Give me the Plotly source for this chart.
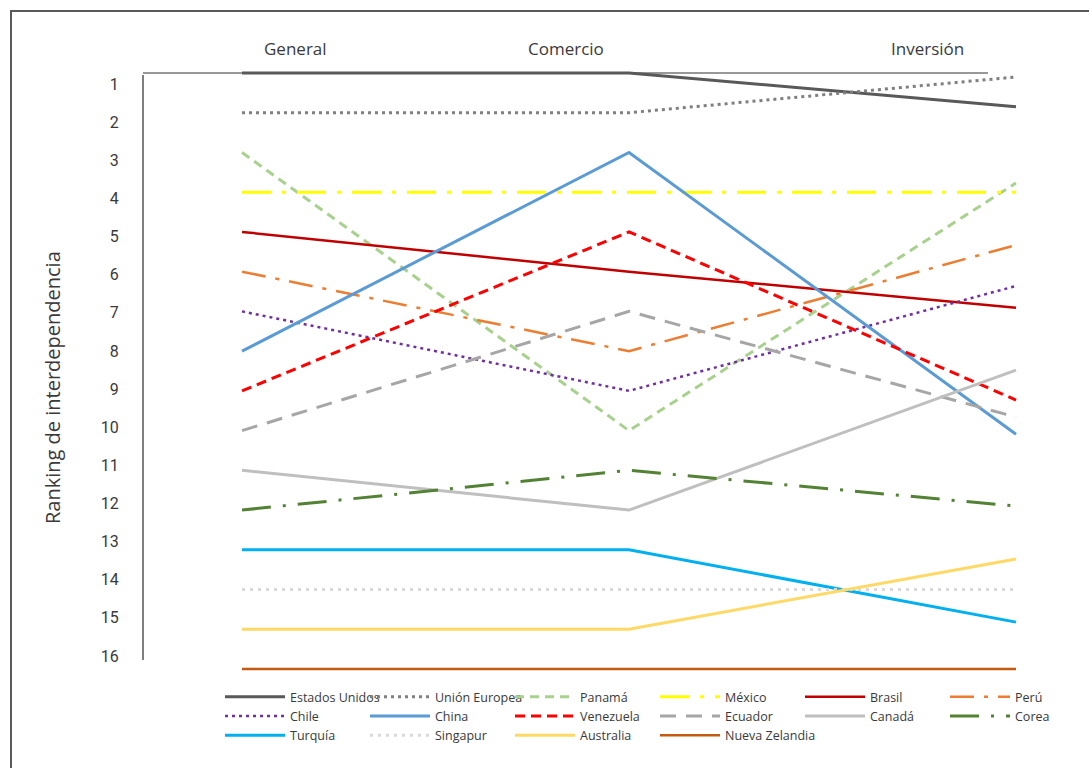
import plotly.graph_objects as go

# ---------------- data ----------------
categories = ["General", "Comercio", "Inversión"]

countries = ["Estados Unidos", "Unión Europea", "Panamá", "México", "Brasil", "Perú",
             "Chile", "China", "Venezuela", "Ecuador", "Canadá", "Corea",
             "Turquía", "Singapur", "Australia", "Nueva Zelandia"]

estados_unidos = [1, 1, 1.85]
union_europea = [2, 2, 1.1]
panama = [3, 10, 3.77]
mexico = [4, 4, 4]
brasil = [5, 6, 6.91]
peru = [6, 8, 5.33]
chile = [7, 9, 6.36]
china = [8, 3, 10.09]
venezuela = [9, 5, 9.23]
ecuador = [10, 7, 9.66]
canada = [11, 12, 8.48]
corea = [12, 11, 11.9]
turquia = [13, 13, 14.82]
singapur = [14, 14, 14]
australia = [15, 15, 13.23]
nueva_zelandia = [16, 16, 16]

series = [estados_unidos, union_europea, panama, mexico, brasil, peru,
          chile, china, venezuela, ecuador, canada, corea,
          turquia, singapur, australia, nueva_zelandia]

tick_values = [1, 2, 3, 4, 5, 6, 7, 8, 9, 10, 11, 12, 13, 14, 15, 16]
tick_labels = ["1", "2", "3", "4", "5", "6", "7", "8", "9", "10", "11", "12", "13", "14", "15", "16"]

y_title = "Ranking de interdependencia"

# ---------------- styles ----------------
styles = [
    dict(color="#595959", width=3, dash="solid"),
    dict(color="#7f7f7f", width=3, dash="3px,4px"),
    dict(color="#a9d18e", width=3, dash="9px,6px"),
    dict(color="#ffff00", width=3, dash="29px,11px,4px,11px"),
    dict(color="#c00000", width=2.5, dash="solid"),
    dict(color="#ed7d31", width=2.5, dash="24px,10px,4px,10px"),
    dict(color="#7030a0", width=2.5, dash="3px,4px"),
    dict(color="#5b9bd5", width=3, dash="solid"),
    dict(color="#ff0000", width=3, dash="10px,6px"),
    dict(color="#a6a6a6", width=3, dash="16px,10px"),
    dict(color="#bfbfbf", width=3, dash="solid"),
    dict(color="#548235", width=3, dash="29px,12px,3px,12px"),
    dict(color="#00b0f0", width=3, dash="solid"),
    dict(color="#d9d9d9", width=3, dash="3px,5px"),
    dict(color="#ffd966", width=3, dash="solid"),
    dict(color="#c55a11", width=2.5, dash="solid"),
]

FONT = "Open Sans, Roboto, sans-serif"
TICKFONT = "Roboto, sans-serif"
TEXT = "#3a3a3a"

W, H = 1089, 768
L, R, T, B = 143, 1040, 60, 680   # plot area in px

fig = go.Figure()
for name, vals, st in zip(countries, series, styles):
    fig.add_trace(go.Scatter(x=categories, y=vals, mode="lines", name=name,
                             line=st, hoverinfo="name+y"))

# invisible trace to carry the tick-label axis
fig.add_trace(go.Scatter(x=[categories[0]], y=[None], yaxis="y2", showlegend=False,
                         hoverinfo="skip", mode="lines"))

# x pixel mapping (categories at 0,1,2)
x_first, x_last = 242, 1016
ppu_x = (x_last - x_first) / 2
x_range = [-(x_first - L) / ppu_x, 2 + (R - x_last) / ppu_x]

# y data pixel mapping
y1_px, y16_px = 73, 669
ppu_y = (y16_px - y1_px) / 15
y_range = [16 + (B - y16_px) / ppu_y, 1 - (y1_px - T) / ppu_y]

# tick-label axis mapping
t1_px, t16_px = 84, 656
ppu_t = (t16_px - t1_px) / 15
t_range = [16 + (B - t16_px) / ppu_t, 1 - (t1_px - T) / ppu_t]

def px_x(p):
    return (p - L) / (R - L)

def px_y(p):
    return (B - p) / (B - T)

fig.update_layout(
    width=W, height=H,
    margin=dict(l=L, r=W - R, t=T, b=H - B, autoexpand=False),
    paper_bgcolor="white", plot_bgcolor="white",
    font=dict(family=FONT, color=TEXT),
    xaxis=dict(type="category", range=x_range, showgrid=False, zeroline=False,
               showline=False, showticklabels=False, ticks=""),
    yaxis=dict(range=y_range, showgrid=False, zeroline=False, showline=False,
               showticklabels=False, ticks=""),
    yaxis2=dict(overlaying="y", side="left", range=t_range, tickvals=tick_values,
                ticktext=tick_labels, showgrid=False, zeroline=False, showline=False,
                ticks="outside", ticklen=20, tickcolor="rgba(0,0,0,0)",
                tickfont=dict(size=16, color=TEXT, family=TICKFONT)),
    legend=dict(orientation="h", x=px_x(220), xanchor="left", y=px_y(682), yanchor="top",
                entrywidth=70, entrywidthmode="pixels", itemwidth=60,
                font=dict(size=12.5, color=TEXT, family=FONT), bgcolor="rgba(0,0,0,0)",
                tracegroupgap=0),
    showlegend=True,
)

# category headers
for cat, xp in zip(categories, [295, 566, 927]):
    fig.add_annotation(text=cat, x=px_x(xp), y=px_y(48), xref="paper", yref="paper",
                       xanchor="center", yanchor="middle", showarrow=False,
                       font=dict(size=17, color=TEXT, family=FONT))

# y axis title
fig.add_annotation(text=y_title, x=px_x(52), y=px_y(388), xref="paper", yref="paper",
                   xanchor="center", yanchor="middle", showarrow=False, textangle=-90,
                   font=dict(size=20, color=TEXT, family=FONT))

# axis lines and frame
fig.add_shape(type="line", xref="paper", yref="paper", x0=0, x1=0,
              y0=px_y(660), y1=px_y(75), line=dict(color="#555555", width=1.5), layer="below")
fig.add_shape(type="line", xref="paper", yref="paper", x0=0, x1=px_x(988),
              y0=px_y(73), y1=px_y(73), line=dict(color="#333333", width=1.2), layer="below")
fig.add_shape(type="rect", xref="paper", yref="paper", x0=px_x(11), x1=px_x(1120),
              y0=px_y(800), y1=px_y(11), line=dict(color="#595959", width=2), layer="below")

fig.write_html("out.html", config={"displayModeBar": False},
               post_script="document.body.style.margin='0';")
